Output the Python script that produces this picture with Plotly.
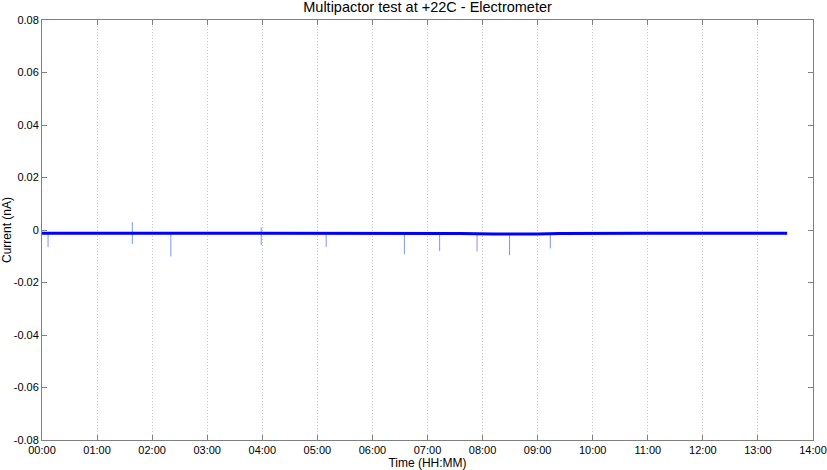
import plotly.graph_objects as go

# ---- data ----
base_hours = [0.0, 1.0, 2.0, 3.0, 4.0, 5.0, 6.0, 7.0, 7.6, 8.2, 8.6, 9.0, 9.4, 10.0, 11.0, 12.0, 13.0, 13.53]
base_current = [-0.0012, -0.0012, -0.0012, -0.0012, -0.0012, -0.0012, -0.0012, -0.0012,
                -0.0013, -0.0015, -0.0016, -0.0015, -0.0013, -0.0012, -0.0012, -0.0012, -0.0012, -0.0012]

spike_hours = [0.11, 1.64, 1.64, 2.34, 3.98, 3.98, 5.16, 6.58, 7.22, 7.90, 8.49, 9.23]
spike_current = [-0.0065, 0.0030, -0.0053, -0.0101, 0.0010, -0.0057, -0.0064, -0.0092, -0.0080, -0.0082, -0.0096, -0.0070]

x_tick_vals = list(range(0, 15))
x_tick_text = ["00:00", "01:00", "02:00", "03:00", "04:00", "05:00", "06:00", "07:00",
               "08:00", "09:00", "10:00", "11:00", "12:00", "13:00", "14:00"]
y_tick_vals = [-0.08, -0.06, -0.04, -0.02, 0, 0.02, 0.04, 0.06, 0.08]
y_tick_text = ["-0.08", "-0.06", "-0.04", "-0.02", "0", "0.02", "0.04", "0.06", "0.08"]


def base_at(h):
    for i in range(len(base_hours) - 1):
        if base_hours[i] <= h <= base_hours[i + 1]:
            t = (h - base_hours[i]) / (base_hours[i + 1] - base_hours[i])
            return base_current[i] + t * (base_current[i + 1] - base_current[i])
    return base_current[-1]


sx, sy = [], []
for h, v in zip(spike_hours, spike_current):
    sx += [h, h, None]
    sy += [base_at(h), v, None]

fig = go.Figure()
fig.add_trace(go.Scatter(x=sx, y=sy, mode="lines",
                         line=dict(color="rgba(90,120,255,0.8)", width=1),
                         hoverinfo="skip", showlegend=False))
fig.add_trace(go.Scatter(x=base_hours, y=base_current, mode="lines",
                         line=dict(color="#0000ff", width=3),
                         showlegend=False))

font = "Liberation Sans, Arial, sans-serif"
fig.update_layout(
    width=827, height=470,
    margin=dict(l=42, r=14, t=20, b=30, autoexpand=False),
    plot_bgcolor="white", paper_bgcolor="white",
    font=dict(family=font, size=11, color="black"),
    title=dict(text="Multipactor test at +22C - Electrometer", x=0.517, xanchor="center",
               y=0.997, yanchor="top", yref="container",
               font=dict(family=font, size=14.5, color="black")),
)
fig.update_xaxes(
    range=[0, 14], tickmode="array", tickvals=x_tick_vals, ticktext=x_tick_text,
    showline=True, linecolor="#808080", linewidth=1, mirror="ticks",
    ticks="inside", ticklen=5, tickcolor="#808080",
    showgrid=True, gridcolor="#c8c8c8", griddash="1px,2px", gridwidth=1,
    zeroline=False, automargin=False,
    title=dict(text="Time (HH:MM)", standoff=1, font=dict(size=12)),
    tickfont=dict(size=11),
)
fig.update_yaxes(
    range=[-0.08, 0.08], tickmode="array", tickvals=y_tick_vals, ticktext=y_tick_text,
    showline=True, linecolor="#808080", linewidth=1, mirror="ticks",
    ticks="inside", ticklen=5, tickcolor="#808080",
    showgrid=False, zeroline=False, automargin=False,
    ticklabelstandoff=0,
    title=dict(text="Current (nA)", standoff=3, font=dict(size=12)),
    tickfont=dict(size=11),
)

fig.write_html("out.html", config={"displayModeBar": False},
               post_script="document.body.style.margin='0';document.body.style.overflow='hidden';")
